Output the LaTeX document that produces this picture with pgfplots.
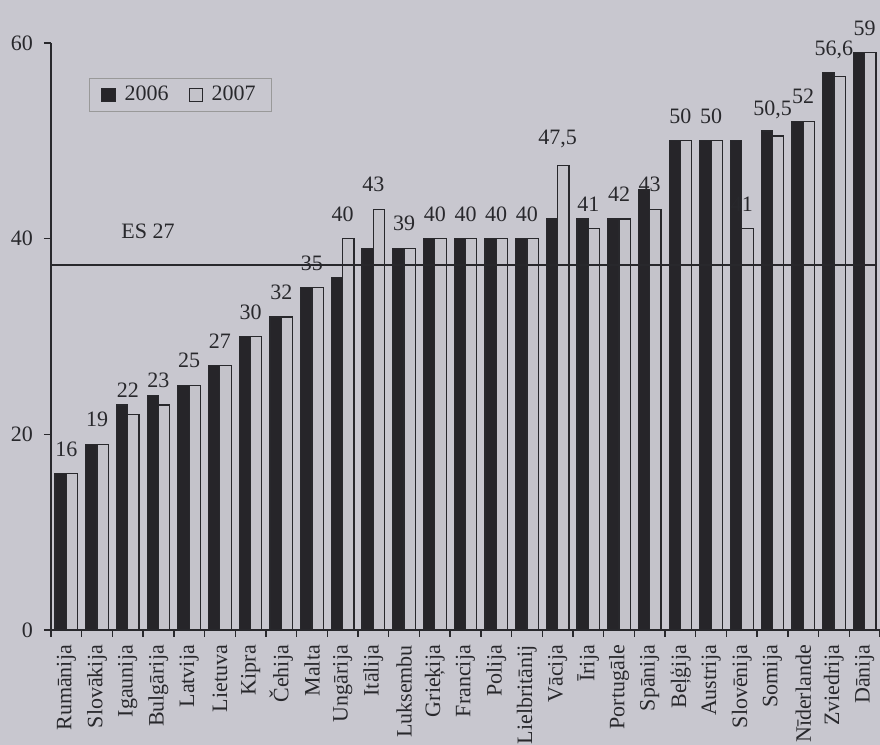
\documentclass[border=0pt]{standalone}
\usepackage{fontspec}
\setmainfont{Liberation Serif}
\usepackage{pgfplots}
\usepackage{pgfplotstable}
\pgfplotsset{compat=1.18}
\definecolor{bg}{RGB}{200,199,207}
\definecolor{darkbar}{RGB}{38,37,41}
\definecolor{lightbar}{RGB}{196,195,202}
\definecolor{ink}{RGB}{40,40,44}
\pgfplotstableread{
x a b lab
0 16 16 16
1 19 19 19
2 23 22 22
3 24 23 23
4 25 25 25
5 27 27 27
6 30 30 30
7 32 32 32
8 35 35 35
9 36 40 40
10 39 43 43
11 39 39 39
12 40 40 40
13 40 40 40
14 40 40 40
15 40 40 40
16 42 47.5 47,5
17 42 41 41
18 42 42 42
19 45 43 43
20 50 50 50
21 50 50 50
22 50 41 41
23 51 50.5 50,5
24 52 52 52
25 57 56.6 56,6
26 59 59 59
}\data
\begin{document}
\begin{tikzpicture}[font=\fontsize{11bp}{13bp}\selectfont]
\useasboundingbox (0,0) rectangle (440bp,372.5bp);
\fill[bg] (0,0) rectangle (440bp,372.5bp);
\begin{axis}[
  at={(25.5bp,57.5bp)}, anchor=south west,
  scale only axis, width=414.5bp, height=293.5bp,
  xmin=-0.5, xmax=26.5, ymin=0, ymax=60,
  clip=false,
  axis x line*=bottom, axis y line*=left,
  axis line style={ink, line width=0.7bp},
  every tick/.style={ink, line width=0.7bp},
  tick align=outside,
  major tick length=3.5bp,
  ytick={0,20,40,60},
  yticklabel shift=2bp,
  xtick={-0.5,0.5,...,26.5},
  xticklabels={},
  extra x ticks={0,...,26},
  extra x tick labels={Rumānija,Slovākija,Igaunija,Bulgārija,Latvija,Lietuva,Kipra,Čehija,Malta,Ungārija,Itālija,Luksembu,Grieķija,Francija,Polija,Lielbritānij,Vācija,Īrija,Portugāle,Spānija,Beļģija,Austrija,Slovēnija,Somija,Nīderlande,Zviedrija,Dānija},
  extra x tick style={major tick length=0pt, xticklabel shift=4bp,
     tick label style={rotate=90, anchor=east}},
  /pgf/number format/assume math mode=true,
  tick label style={font=\fontsize{11bp}{13bp}\selectfont, text=ink},
  legend columns=2,
  legend style={at={(0.0458,0.9404)}, anchor=north west, draw=gray!80, fill=bg,
     line width=0.4bp, font=\fontsize{11bp}{13bp}\selectfont, text=ink,
     inner xsep=6bp, inner ysep=1.8bp,
     /tikz/every odd column/.append style={column sep=2.5bp},
     /tikz/every even column/.append style={column sep=8bp}},
]
\addplot[ybar, bar width=5.65bp, bar shift=-2.825bp, fill=darkbar, draw=ink, line width=0.6bp,
  legend image code/.code={\draw[fill=darkbar, draw=ink, line width=0.5bp] (0bp,-3.3bp) rectangle (6.6bp,3.3bp);}]
  table[x=x, y=a] {\data};
\addlegendentry{2006}
\addplot[ybar, bar width=5.65bp, bar shift=2.825bp, fill=lightbar, draw=ink, line width=0.6bp,
  nodes near coords, point meta=explicit symbolic,
  nodes near coords style={font=\fontsize{11bp}{13bp}\selectfont, text=ink, yshift=5bp},
  legend image code/.code={\draw[fill=lightbar, draw=ink, line width=0.5bp] (0bp,-3.3bp) rectangle (6.6bp,3.3bp);}]
  table[x=x, y=b, meta=lab] {\data};
\addlegendentry{2007}
\addplot[ink, line width=0.8bp, forget plot, no marks] coordinates {(-0.5,37.3) (26.35,37.3)};
\node[text=ink] at (axis cs:2.66,40.8) {ES 27};
\end{axis}
\end{tikzpicture}
\end{document}
